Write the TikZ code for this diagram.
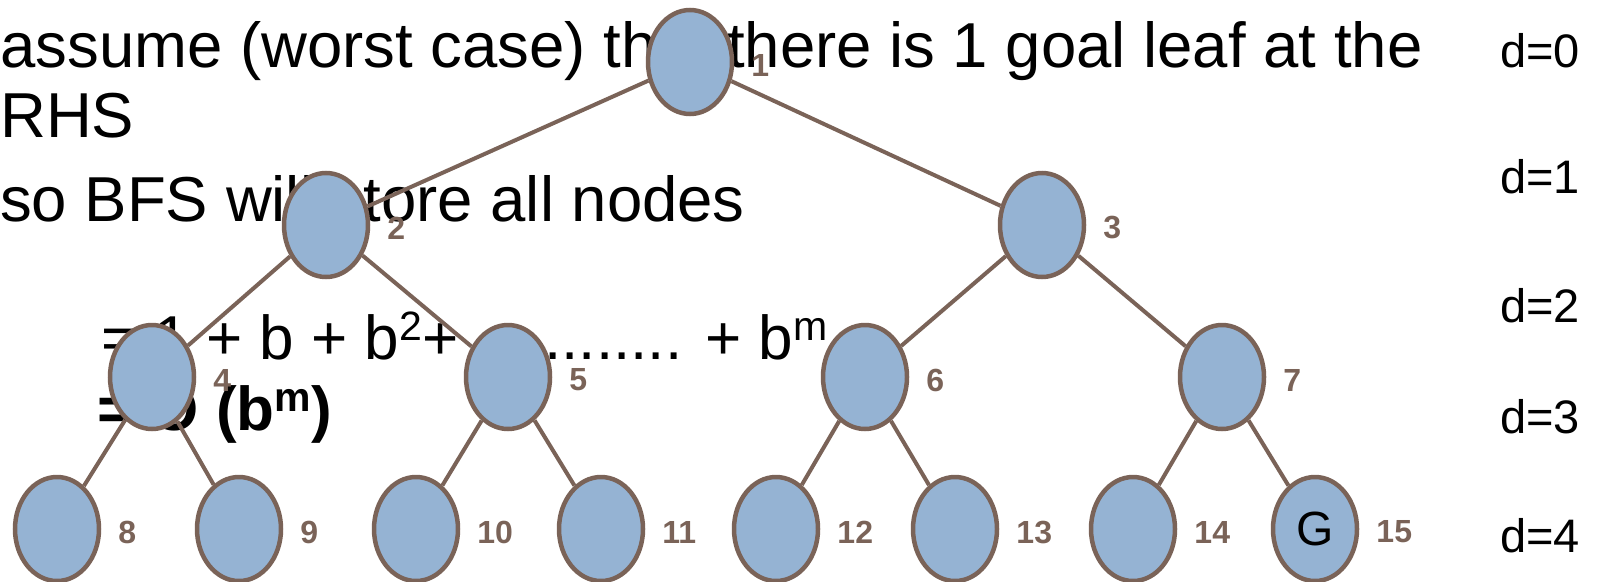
\documentclass[tikz,border=0pt]{standalone}
\usepackage{fontspec}
\setmainfont{Liberation Sans}
\usepackage{tikz}
\usetikzlibrary{shapes.geometric}

\definecolor{nodeblue}{RGB}{149,179,211}
\definecolor{treebrown}{RGB}{122,99,88}
\newcommand{\sups}[1]{\raisebox{0.3em}{\fontsize{41}{41}\selectfont #1}}

\begin{document}
\begin{tikzpicture}[x=1pt, y=-1pt,
        st/.style   = {ellipse, draw=treebrown, line width=4.5pt, fill=nodeblue,
                       minimum width=84pt, minimum height=104pt, inner sep=0pt,
                       font=\fontsize{48}{48}\selectfont,
                       label={[lbl]right:#1}},
        lbl/.style  = {text=treebrown, inner sep=0pt, xshift=17pt, yshift=-3pt,
                       font=\fontsize{32}{32}\selectfont\bfseries},
        txt/.style  = {anchor=base west, inner sep=0pt, font=\fontsize{63.5}{63.5}\selectfont},
        dep/.style  = {anchor=base west, inner sep=0pt, font=\fontsize{47}{47}\selectfont},
        edge/.style = {draw=treebrown, line width=4pt}
    ]
    \useasboundingbox (0,0) rectangle (1597,581);

    % slide text behind the tree
    \node[txt] (t1) at (0,67)   {assume (worst case) that there is 1 goal leaf at the};
    \node[txt] (t2) at (0,137)  {RHS};
    \node[txt] (t3) at (0,221)  {so BFS will store all nodes};
    \node[txt, font=\fontsize{62}{62}\selectfont] (t4) at (101,359)
        {= 1 + b + b\sups{2}+ ............ + b\sups{m}};
    \node[txt, font=\fontsize{62}{62}\selectfont\bfseries] (t5) at (97,430) {= O (b\sups{m})};

    % depth labels
    \foreach \d/\y in {0/67,1/193,2/322,3/433,4/552}
        \node[dep] (d\d) at (1500,\y) {d=\d};

    % the tree
    \node[st=1]  (n1)  at (690,62)   {};
    \node[st=2]  (n2)  at (326,225)  {};
    \node[st=3]  (n3)  at (1042,225) {};
    \node[st=4]  (n4)  at (152,377)  {};
    \node[st=5]  (n5)  at (508,377)  {};
    \node[st=6]  (n6)  at (865,377)  {};
    \node[st=7]  (n7)  at (1222,377) {};
    \node[st=8]  (n8)  at (57,529)   {};
    \node[st=9]  (n9)  at (239,529)  {};
    \node[st=10] (n10) at (416,529)  {};
    \node[st=11] (n11) at (601,529)  {};
    \node[st=12] (n12) at (776,529)  {};
    \node[st=13] (n13) at (955,529)  {};
    \node[st=14] (n14) at (1133,529) {};
    \node[st=15] (n15) at (1315,529) {G};

    \foreach \p/\c in {1/2,1/3,2/4,2/5,3/6,3/7,4/8,4/9,5/10,5/11,6/12,6/13,7/14,7/15}
        \draw[edge] (n\p) -- (n\c);
\end{tikzpicture}
\end{document}
